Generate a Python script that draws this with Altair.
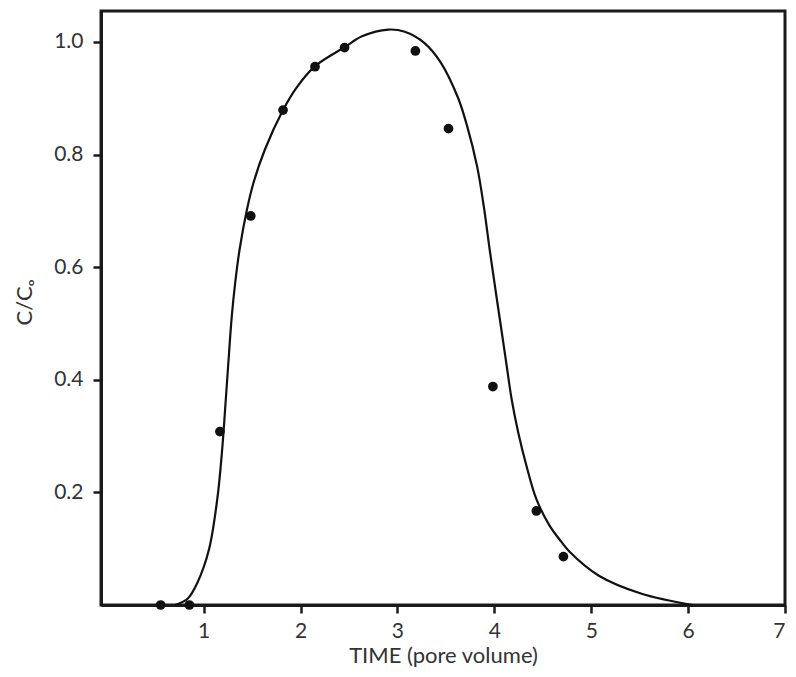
import altair as alt
import pandas as pd

# Measured data points (pore volume, C/Co)
obs_time = [0.556, 0.852, 1.167, 1.486, 1.819, 2.149, 2.454, 3.185, 3.527, 3.985, 4.434, 4.713]
obs_conc = [0.0, 0.0, 0.308, 0.691, 0.879, 0.956, 0.990, 0.984, 0.846, 0.388, 0.167, 0.086]

# Fitted curve
curve_time = [0.705, 0.834, 0.936, 1.055, 1.140, 1.191, 1.228, 1.252, 1.290, 1.325, 1.370,
              1.446, 1.514, 1.632, 1.819, 1.955, 2.149, 2.457, 2.634, 2.905, 3.076, 3.279,
              3.449, 3.627, 3.720, 3.822, 3.891, 3.952, 4.026, 4.077, 4.128, 4.179, 4.247,
              4.332, 4.434, 4.570, 4.688, 4.774, 5.079, 5.520, 6.047]
curve_conc = [0.0, 0.011, 0.040, 0.099, 0.188, 0.277, 0.365, 0.424, 0.513, 0.572, 0.631,
              0.702, 0.750, 0.809, 0.879, 0.918, 0.957, 0.991, 1.010, 1.022, 1.018, 0.998,
              0.963, 0.900, 0.850, 0.779, 0.708, 0.631, 0.543, 0.484, 0.424, 0.365, 0.306,
              0.247, 0.188, 0.141, 0.113, 0.095, 0.052, 0.020, 0.0]

x_ticks = [1, 2, 3, 4, 5, 6, 7]
y_ticks = [0.2, 0.4, 0.6, 0.8, 1.0]

obs = pd.DataFrame({"t": obs_time, "c": obs_conc})
curve = pd.DataFrame({"t": curve_time, "c": curve_conc})

FONT = "Lato"
TXT = "#333333"
INK = "#1a1a1a"

xscale = alt.Scale(domain=[-0.06, 7.0], nice=False, zero=False)
yscale = alt.Scale(domain=[0, 1.055], nice=False)

xaxis = alt.Axis(values=x_ticks, title="TIME (pore volume)", format="d",
                 grid=False, tickSize=8, tickWidth=2.5, tickColor=INK,
                 domainColor=INK, domainWidth=3,
                 labelFont=FONT, labelFontSize=21, labelColor=TXT, labelPadding=7,
                 titleFont=FONT, titleFontSize=22, titleFontWeight="normal",
                 titleColor=TXT, titlePadding=4)
yaxis = alt.Axis(values=y_ticks, title="C/Cₒ", format=".1f",
                 grid=False, tickSize=8, tickWidth=2.5, tickColor=INK,
                 domainColor=INK, domainWidth=3,
                 labelFont=FONT, labelFontSize=21, labelColor=TXT, labelPadding=10,
                 titleFont=FONT, titleFontSize=22, titleFontWeight="normal",
                 titleColor=TXT, titlePadding=17, titleY=291)

line = alt.Chart(curve).mark_line(color="#111111", strokeWidth=2.2,
                                  interpolate="catmull-rom").encode(
    x=alt.X("t:Q", scale=xscale, axis=xaxis),
    y=alt.Y("c:Q", scale=yscale, axis=yaxis),
)

pts = alt.Chart(obs).mark_circle(color="#111111", opacity=1, size=95).encode(
    x=alt.X("t:Q", scale=xscale),
    y=alt.Y("c:Q", scale=yscale),
)

chart = (line + pts).properties(
    width=684, height=594,
    background="white",
    padding={"left": 5, "top": 3, "right": 0, "bottom": 2},
).configure_view(stroke=INK, strokeWidth=3)

chart.save("out.html", embed_options={"renderer": "svg", "actions": False})
